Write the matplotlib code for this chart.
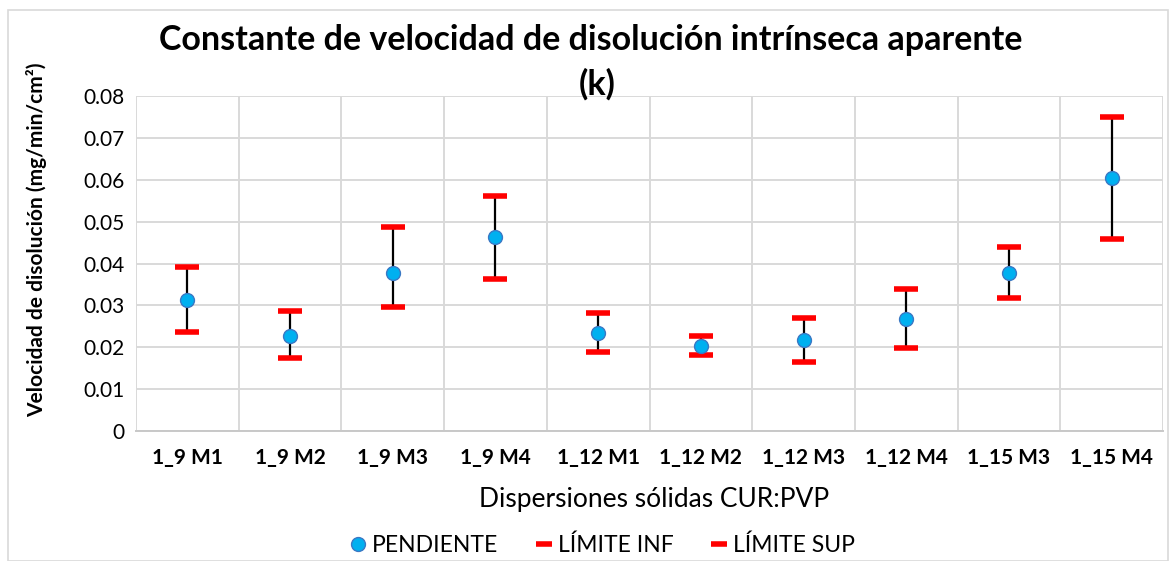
import matplotlib.pyplot as plt
import numpy as np
from matplotlib.lines import Line2D
from matplotlib.patches import Rectangle

plt.rcParams["font.family"] = ["Lato", "DejaVu Sans"]

samples = ["1_9 M1", "1_9 M2", "1_9 M3", "1_9 M4", "1_12 M1",
           "1_12 M2", "1_12 M3", "1_12 M4", "1_15 M3", "1_15 M4"]
pendiente = [0.0314, 0.0228, 0.0378, 0.0463, 0.0235,
             0.0203, 0.0217, 0.0268, 0.0378, 0.0604]
limite_inf = [0.0236, 0.0174, 0.0296, 0.0364, 0.0189,
              0.0182, 0.0165, 0.0199, 0.0318, 0.0459]
limite_sup = [0.0392, 0.0286, 0.0488, 0.0562, 0.0282,
              0.0226, 0.0270, 0.0338, 0.0439, 0.0750]

BLUE = "#00B0F0"
RED = "#FF0000"


def plot_chart():
    fig = plt.figure(figsize=(11.7, 5.61), dpi=100)
    ax = fig.add_axes([136 / 1170, 1 - 431 / 561, 1027 / 1170, 335 / 561])

    x = np.arange(len(samples))
    ax.vlines(x, limite_inf, limite_sup, color="black", lw=1.6, zorder=3)
    ax.plot(x, limite_inf, ls="none", marker="_", color=RED,
            markersize=17, mew=4, zorder=4)
    ax.plot(x, limite_sup, ls="none", marker="_", color=RED,
            markersize=17, mew=4, zorder=4)
    ax.plot(x, pendiente, ls="none", marker="o", markersize=10,
            markerfacecolor=BLUE, markeredgecolor="#3A78C4", mew=1, zorder=5)

    ax.set_xlim(-0.5, len(samples) - 0.5)
    ax.set_ylim(0, 0.08)
    ax.set_yticks(np.arange(0, 0.081, 0.01))
    ax.set_yticklabels(["0"] + [f"{v:.2f}" for v in np.arange(0.01, 0.081, 0.01)])
    ax.set_xticks(x)
    ax.set_xticklabels(samples, fontweight="bold")
    ax.set_xticks(np.arange(-0.5, len(samples)), minor=True)
    ax.tick_params(axis="both", which="both", length=0, labelsize=15)
    ax.tick_params(axis="y", pad=8)
    ax.tick_params(axis="x", pad=12)

    ax.grid(True, which="minor", axis="x", color="#D9D9D9", lw=1.4)
    ax.grid(True, which="major", axis="y", color="#D9D9D9", lw=1.4)
    for side in ["left", "top", "right"]:
        ax.spines[side].set_visible(False)
    ax.spines["bottom"].set_color("#C8C8C8")
    ax.spines["bottom"].set_linewidth(1.4)
    ax.set_axisbelow(True)

    fig.text(0.505, 1 - 40 / 561, "Constante de velocidad de disolución intrínseca aparente",
             ha="center", va="center", fontsize=24.5, fontweight="bold")
    fig.text(0.51, 1 - 84 / 561, "(k)", ha="center", va="center",
             fontsize=24.5, fontweight="bold")
    fig.text(37 / 1170, 1 - 240 / 561, "Velocidad de disolución (mg/min/cm²)",
             rotation=90, ha="center", va="center", fontsize=15, fontweight="bold")
    fig.text(654 / 1170, 1 - 499 / 561, "Dispersiones sólidas CUR:PVP",
             ha="center", va="center", fontsize=19)

    handles = [
        Line2D([], [], ls="none", marker="o", markersize=10,
               markerfacecolor=BLUE, markeredgecolor="#3A78C4", mew=1),
        Line2D([], [], ls="none", marker="_", color=RED, markersize=12, mew=4),
        Line2D([], [], ls="none", marker="_", color=RED, markersize=12, mew=4),
    ]
    fig.legend(handles, ["PENDIENTE", "LÍMITE INF", "LÍMITE SUP"],
               loc="center", bbox_to_anchor=(602 / 1170, 1 - 545 / 561),
               ncol=3, frameon=False, fontsize=16.5, handlelength=0.8,
               handletextpad=0.2, columnspacing=1.6)

    fig.add_artist(Rectangle((8 / 1170, 0), 1160 / 1170, 1 - 10 / 561,
                             transform=fig.transFigure, fill=False,
                             edgecolor="#D9D9D9", lw=1.2))

    fig.savefig("out.png", dpi=100)


if __name__ == "__main__":
    plot_chart()
